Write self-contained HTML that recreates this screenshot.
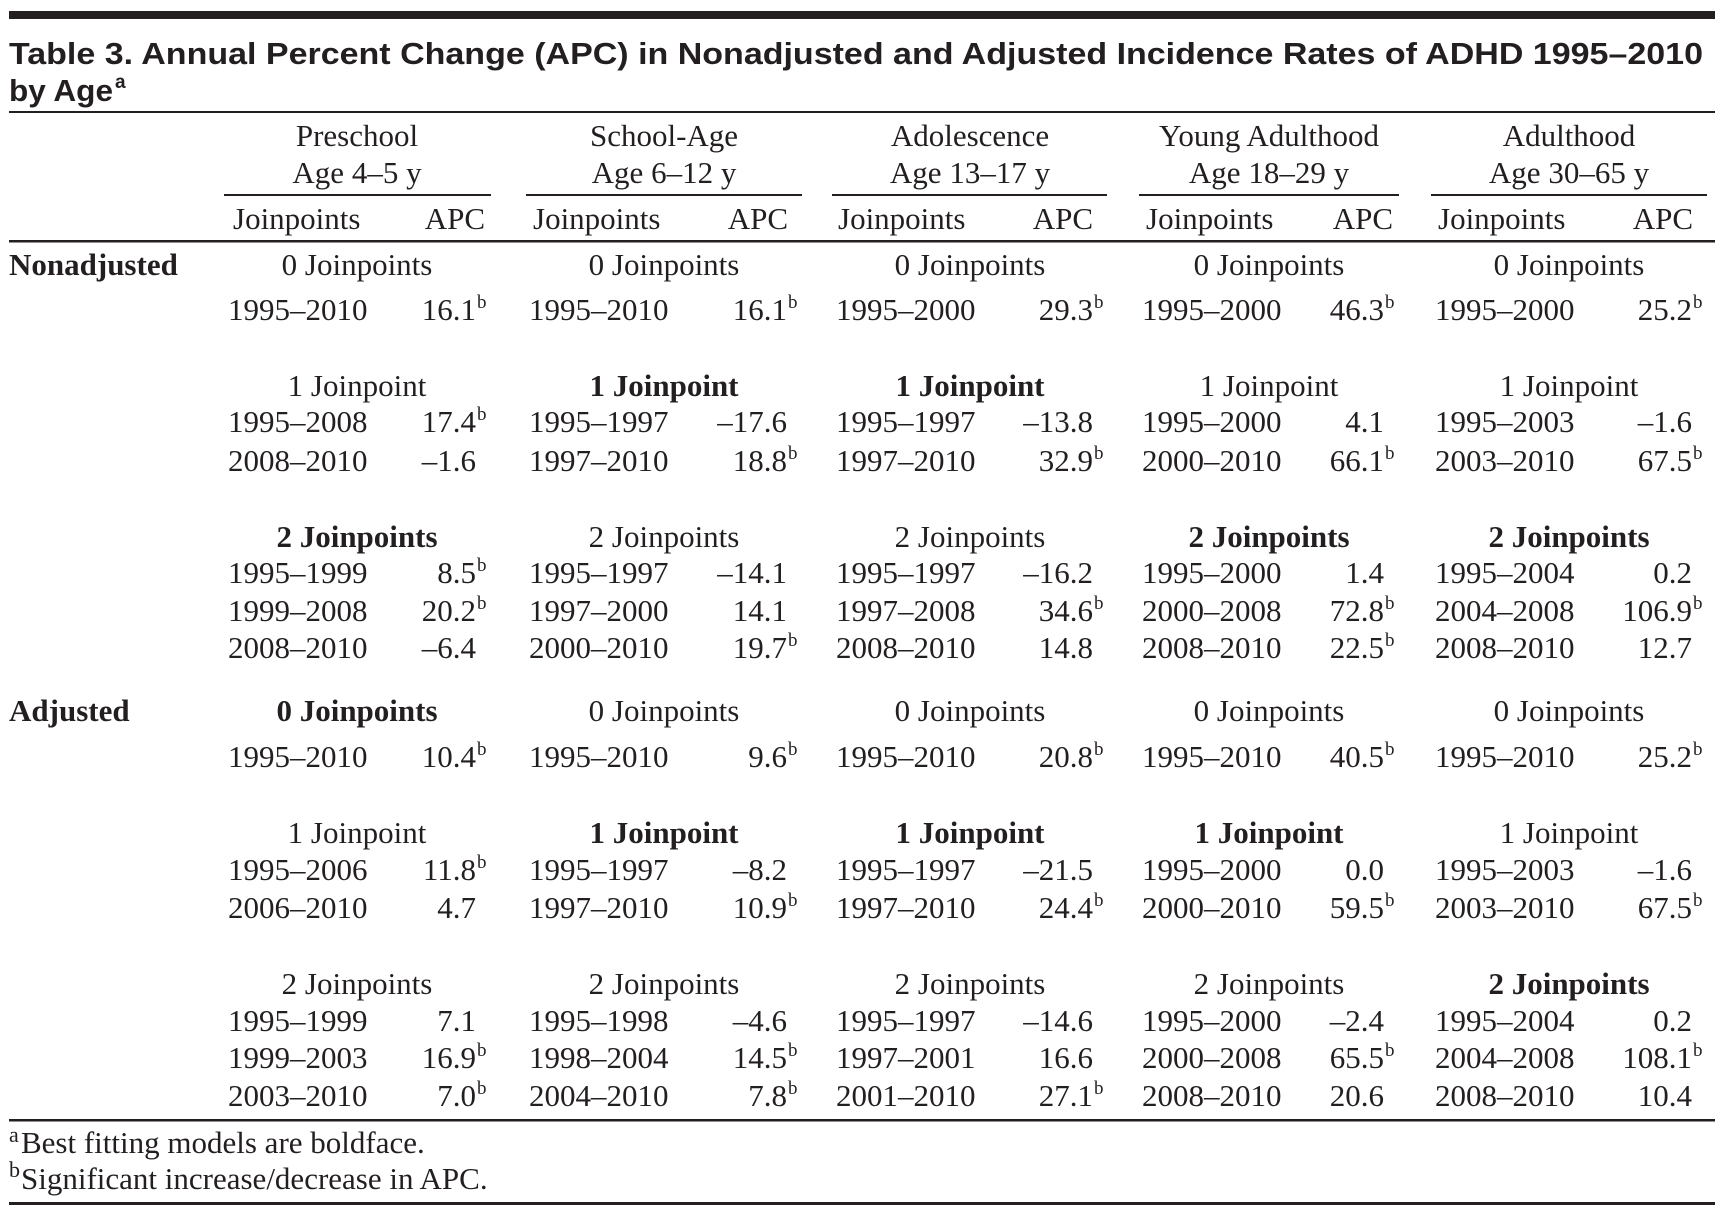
<!DOCTYPE html>
<html><head><meta charset="utf-8"><style>
html,body{margin:0;padding:0;background:#fff;}
svg{display:block}
text{font-family:"Liberation Serif",serif;font-size:31px;fill:#231f20}
.t{font-family:"Liberation Sans",sans-serif;font-weight:bold;font-size:31px}
.b{font-weight:bold}
.e{text-anchor:end}
.m{text-anchor:middle}
.s{font-size:19px}
.f{font-size:22px}
</style></head><body>
<svg width="1720" height="1213" viewBox="0 0 1720 1213" xmlns="http://www.w3.org/2000/svg">
<rect x="9" y="11" width="1706" height="8" fill="#231f20"/>
<text class="t" x="9" y="64" textLength="1694" lengthAdjust="spacingAndGlyphs">Table 3. Annual Percent Change (APC) in Nonadjusted and Adjusted Incidence Rates of ADHD 1995–2010</text>
<text class="t" x="9" y="101" textLength="104" lengthAdjust="spacingAndGlyphs">by Age</text>
<text class="t" x="115" y="88" style="font-size:19px">a</text>
<rect x="9" y="111" width="1706" height="2" fill="#231f20"/>
<rect x="9" y="240" width="1706" height="2.5" fill="#231f20"/>
<rect x="9" y="1119" width="1706" height="2.5" fill="#231f20"/>
<rect x="9" y="1202" width="1706" height="3" fill="#231f20"/>
<g fill="#231f20">
<rect x="224" y="194" width="267" height="2"/><rect x="526" y="194" width="276" height="2"/><rect x="832" y="194" width="275" height="2"/><rect x="1139" y="194" width="260" height="2"/><rect x="1431" y="194" width="276" height="2"/>
</g>
<text class="m" x="357" y="146">Preschool</text><text class="m" x="357" y="183">Age 4–5 y</text>
<text class="m" x="664" y="146">School-Age</text><text class="m" x="664" y="183">Age 6–12 y</text>
<text class="m" x="970" y="146">Adolescence</text><text class="m" x="970" y="183">Age 13–17 y</text>
<text class="m" x="1269" y="146">Young Adulthood</text><text class="m" x="1269" y="183">Age 18–29 y</text>
<text class="m" x="1569" y="146">Adulthood</text><text class="m" x="1569" y="183">Age 30–65 y</text>
<text x="233" y="229">Joinpoints</text><text class="e" x="485" y="229">APC</text>
<text x="533" y="229">Joinpoints</text><text class="e" x="788" y="229">APC</text>
<text x="838" y="229">Joinpoints</text><text class="e" x="1093" y="229">APC</text>
<text x="1146" y="229">Joinpoints</text><text class="e" x="1393" y="229">APC</text>
<text x="1438" y="229">Joinpoints</text><text class="e" x="1693" y="229">APC</text>
<text class="b" x="9" y="275">Nonadjusted</text>
<text class="b" x="9" y="721">Adjusted</text>

<!-- G1 -->
<g transform="translate(228,0)">
<text class="m" x="129" y="275">0 Joinpoints</text>
<text x="0" y="320">1995–2010</text><text class="e" x="248" y="320">16.1</text><text class="s" x="249" y="308">b</text>
<text class="m" x="129" y="396">1 Joinpoint</text>
<text x="0" y="432">1995–2008</text><text class="e" x="248" y="432">17.4</text><text class="s" x="249" y="420">b</text>
<text x="0" y="471">2008–2010</text><text class="e" x="248" y="471">–1.6</text>
<text class="m b" x="129" y="547">2 Joinpoints</text>
<text x="0" y="583">1995–1999</text><text class="e" x="248" y="583">8.5</text><text class="s" x="249" y="571">b</text>
<text x="0" y="621">1999–2008</text><text class="e" x="248" y="621">20.2</text><text class="s" x="249" y="609">b</text>
<text x="0" y="658">2008–2010</text><text class="e" x="248" y="658">–6.4</text>
<text class="m b" x="129" y="721">0 Joinpoints</text>
<text x="0" y="767">1995–2010</text><text class="e" x="248" y="767">10.4</text><text class="s" x="249" y="755">b</text>
<text class="m" x="129" y="843">1 Joinpoint</text>
<text x="0" y="880">1995–2006</text><text class="e" x="248" y="880">11.8</text><text class="s" x="249" y="868">b</text>
<text x="0" y="918">2006–2010</text><text class="e" x="248" y="918">4.7</text>
<text class="m" x="129" y="994">2 Joinpoints</text>
<text x="0" y="1031">1995–1999</text><text class="e" x="248" y="1031">7.1</text>
<text x="0" y="1068">1999–2003</text><text class="e" x="248" y="1068">16.9</text><text class="s" x="249" y="1056">b</text>
<text x="0" y="1106">2003–2010</text><text class="e" x="248" y="1106">7.0</text><text class="s" x="249" y="1094">b</text>
</g>

<!-- G2 -->
<g transform="translate(529,0)">
<text class="m" x="135" y="275">0 Joinpoints</text>
<text x="0" y="320">1995–2010</text><text class="e" x="258" y="320">16.1</text><text class="s" x="259" y="308">b</text>
<text class="m b" x="135" y="396">1 Joinpoint</text>
<text x="0" y="432">1995–1997</text><text class="e" x="258" y="432">–17.6</text>
<text x="0" y="471">1997–2010</text><text class="e" x="258" y="471">18.8</text><text class="s" x="259" y="459">b</text>
<text class="m" x="135" y="547">2 Joinpoints</text>
<text x="0" y="583">1995–1997</text><text class="e" x="258" y="583">–14.1</text>
<text x="0" y="621">1997–2000</text><text class="e" x="258" y="621">14.1</text>
<text x="0" y="658">2000–2010</text><text class="e" x="258" y="658">19.7</text><text class="s" x="259" y="646">b</text>
<text class="m" x="135" y="721">0 Joinpoints</text>
<text x="0" y="767">1995–2010</text><text class="e" x="258" y="767">9.6</text><text class="s" x="259" y="755">b</text>
<text class="m b" x="135" y="843">1 Joinpoint</text>
<text x="0" y="880">1995–1997</text><text class="e" x="258" y="880">–8.2</text>
<text x="0" y="918">1997–2010</text><text class="e" x="258" y="918">10.9</text><text class="s" x="259" y="906">b</text>
<text class="m" x="135" y="994">2 Joinpoints</text>
<text x="0" y="1031">1995–1998</text><text class="e" x="258" y="1031">–4.6</text>
<text x="0" y="1068">1998–2004</text><text class="e" x="258" y="1068">14.5</text><text class="s" x="259" y="1056">b</text>
<text x="0" y="1106">2004–2010</text><text class="e" x="258" y="1106">7.8</text><text class="s" x="259" y="1094">b</text>
</g>

<!-- G3 -->
<g transform="translate(836,0)">
<text class="m" x="134" y="275">0 Joinpoints</text>
<text x="0" y="320">1995–2000</text><text class="e" x="257" y="320">29.3</text><text class="s" x="258" y="308">b</text>
<text class="m b" x="134" y="396">1 Joinpoint</text>
<text x="0" y="432">1995–1997</text><text class="e" x="257" y="432">–13.8</text>
<text x="0" y="471">1997–2010</text><text class="e" x="257" y="471">32.9</text><text class="s" x="258" y="459">b</text>
<text class="m" x="134" y="547">2 Joinpoints</text>
<text x="0" y="583">1995–1997</text><text class="e" x="257" y="583">–16.2</text>
<text x="0" y="621">1997–2008</text><text class="e" x="257" y="621">34.6</text><text class="s" x="258" y="609">b</text>
<text x="0" y="658">2008–2010</text><text class="e" x="257" y="658">14.8</text>
<text class="m" x="134" y="721">0 Joinpoints</text>
<text x="0" y="767">1995–2010</text><text class="e" x="257" y="767">20.8</text><text class="s" x="258" y="755">b</text>
<text class="m b" x="134" y="843">1 Joinpoint</text>
<text x="0" y="880">1995–1997</text><text class="e" x="257" y="880">–21.5</text>
<text x="0" y="918">1997–2010</text><text class="e" x="257" y="918">24.4</text><text class="s" x="258" y="906">b</text>
<text class="m" x="134" y="994">2 Joinpoints</text>
<text x="0" y="1031">1995–1997</text><text class="e" x="257" y="1031">–14.6</text>
<text x="0" y="1068">1997–2001</text><text class="e" x="257" y="1068">16.6</text>
<text x="0" y="1106">2001–2010</text><text class="e" x="257" y="1106">27.1</text><text class="s" x="258" y="1094">b</text>
</g>

<!-- G4 -->
<g transform="translate(1142,0)">
<text class="m" x="127" y="275">0 Joinpoints</text>
<text x="0" y="320">1995–2000</text><text class="e" x="242" y="320">46.3</text><text class="s" x="243" y="308">b</text>
<text class="m" x="127" y="396">1 Joinpoint</text>
<text x="0" y="432">1995–2000</text><text class="e" x="242" y="432">4.1</text>
<text x="0" y="471">2000–2010</text><text class="e" x="242" y="471">66.1</text><text class="s" x="243" y="459">b</text>
<text class="m b" x="127" y="547">2 Joinpoints</text>
<text x="0" y="583">1995–2000</text><text class="e" x="242" y="583">1.4</text>
<text x="0" y="621">2000–2008</text><text class="e" x="242" y="621">72.8</text><text class="s" x="243" y="609">b</text>
<text x="0" y="658">2008–2010</text><text class="e" x="242" y="658">22.5</text><text class="s" x="243" y="646">b</text>
<text class="m" x="127" y="721">0 Joinpoints</text>
<text x="0" y="767">1995–2010</text><text class="e" x="242" y="767">40.5</text><text class="s" x="243" y="755">b</text>
<text class="m b" x="127" y="843">1 Joinpoint</text>
<text x="0" y="880">1995–2000</text><text class="e" x="242" y="880">0.0</text>
<text x="0" y="918">2000–2010</text><text class="e" x="242" y="918">59.5</text><text class="s" x="243" y="906">b</text>
<text class="m" x="127" y="994">2 Joinpoints</text>
<text x="0" y="1031">1995–2000</text><text class="e" x="242" y="1031">–2.4</text>
<text x="0" y="1068">2000–2008</text><text class="e" x="242" y="1068">65.5</text><text class="s" x="243" y="1056">b</text>
<text x="0" y="1106">2008–2010</text><text class="e" x="242" y="1106">20.6</text>
</g>

<!-- G5 -->
<g transform="translate(1435,0)">
<text class="m" x="134" y="275">0 Joinpoints</text>
<text x="0" y="320">1995–2000</text><text class="e" x="257" y="320">25.2</text><text class="s" x="258" y="308">b</text>
<text class="m" x="134" y="396">1 Joinpoint</text>
<text x="0" y="432">1995–2003</text><text class="e" x="257" y="432">–1.6</text>
<text x="0" y="471">2003–2010</text><text class="e" x="257" y="471">67.5</text><text class="s" x="258" y="459">b</text>
<text class="m b" x="134" y="547">2 Joinpoints</text>
<text x="0" y="583">1995–2004</text><text class="e" x="257" y="583">0.2</text>
<text x="0" y="621">2004–2008</text><text class="e" x="257" y="621">106.9</text><text class="s" x="258" y="609">b</text>
<text x="0" y="658">2008–2010</text><text class="e" x="257" y="658">12.7</text>
<text class="m" x="134" y="721">0 Joinpoints</text>
<text x="0" y="767">1995–2010</text><text class="e" x="257" y="767">25.2</text><text class="s" x="258" y="755">b</text>
<text class="m" x="134" y="843">1 Joinpoint</text>
<text x="0" y="880">1995–2003</text><text class="e" x="257" y="880">–1.6</text>
<text x="0" y="918">2003–2010</text><text class="e" x="257" y="918">67.5</text><text class="s" x="258" y="906">b</text>
<text class="m b" x="134" y="994">2 Joinpoints</text>
<text x="0" y="1031">1995–2004</text><text class="e" x="257" y="1031">0.2</text>
<text x="0" y="1068">2004–2008</text><text class="e" x="257" y="1068">108.1</text><text class="s" x="258" y="1056">b</text>
<text x="0" y="1106">2008–2010</text><text class="e" x="257" y="1106">10.4</text>
</g>

<text class="f" x="9" y="1142">a</text><text x="21" y="1153">Best fitting models are boldface.</text>
<text class="f" x="9" y="1177">b</text><text x="21" y="1189">Significant increase/decrease in APC.</text>
</svg>
</body></html>
